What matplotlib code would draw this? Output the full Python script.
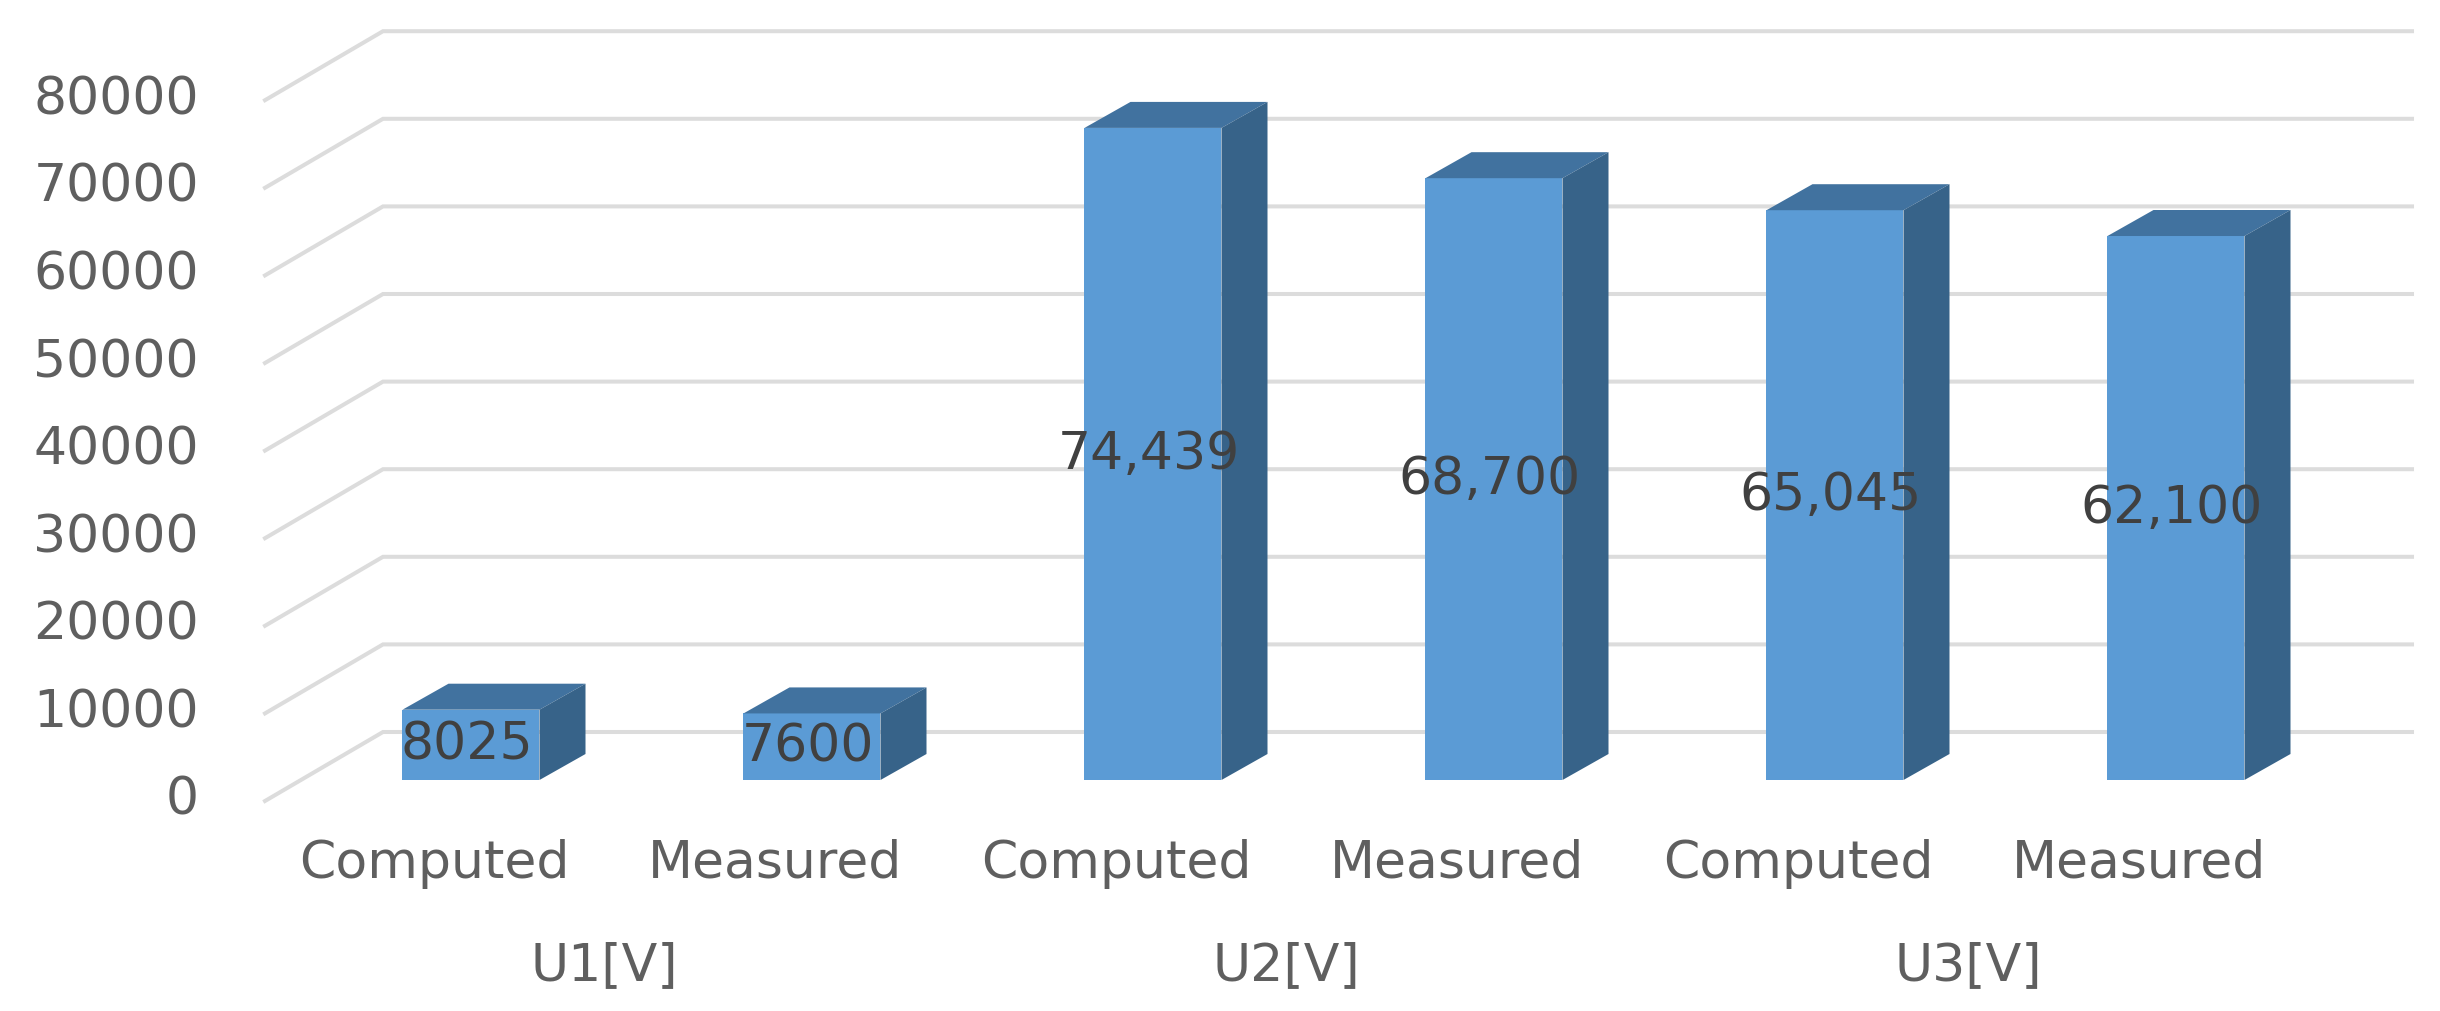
import numpy as np
import matplotlib.pyplot as plt

categories = ['Computed', 'Measured', 'Computed', 'Measured', 'Computed', 'Measured']
groups = ['U1[V]', 'U2[V]', 'U3[V]']
values = [8025, 7600, 74439, 68700, 65045, 62100]
value_labels = ['8025', '7600', '74,439', '68,700', '65,045', '62,100']
y_ticks = [0, 10000, 20000, 30000, 40000, 50000, 60000, 70000, 80000]

# pixel layout of the fake 3D projection
W, H = 2440, 1012
X0 = 471.0       # centre of first bar
STEP = 341.0     # bar spacing
Y0 = 781.0       # bar base
PX_PER_UNIT = 0.00876
BAR_W = 137.0 / STEP
DEPTH_X = 46.0 / STEP
DEPTH_Y = 26.0 / PX_PER_UNIT

FLOOR_FRONT_X = (265.0 - X0) / STEP
FLOOR_FRONT_Y = (Y0 - 802.0) / PX_PER_UNIT
WALL_X = (383.0 - X0) / STEP
WALL_Y = (Y0 - 733.0) / PX_PER_UNIT
WALL_END_X = (2412.0 - X0) / STEP

fig = plt.figure(figsize=(W / 100, H / 100), dpi=100)
ax = fig.add_axes([0, 0, 1, 1])
ax.set_xlim(-X0 / STEP, (W - X0) / STEP)
ax.set_ylim((Y0 - H) / PX_PER_UNIT, Y0 / PX_PER_UNIT)
ax.axis('off')

text_col = '#5f5f5f'
grid_col = '#dcdcdc'
font_size = 37.5

# gridlines: diagonal on the side wall, then along the back wall
for t in y_ticks:
    ax.plot([FLOOR_FRONT_X, WALL_X, WALL_END_X],
            [t + FLOOR_FRONT_Y, t + WALL_Y, t + WALL_Y],
            color=grid_col, lw=2.9, solid_joinstyle='miter', zorder=1)
    ax.text(FLOOR_FRONT_X - 66.0 / STEP, t + FLOOR_FRONT_Y + 1.0 / PX_PER_UNIT, str(t),
            ha='right', va='center', fontsize=font_size, color=text_col)

x_pos = np.arange(len(values))
for x, v, lab in zip(x_pos, values, value_labels):
    l, r = x - BAR_W / 2, x + BAR_W / 2
    ax.fill([l, r, r, l], [0, 0, v, v], color='#5b9bd5', lw=0, zorder=3)
    ax.fill([l, r, r + DEPTH_X, l + DEPTH_X], [v, v, v + DEPTH_Y, v + DEPTH_Y],
            color='#41729f', lw=0, zorder=3)
    ax.fill([r, r + DEPTH_X, r + DEPTH_X, r], [0, DEPTH_Y, v + DEPTH_Y, v],
            color='#376389', lw=0, zorder=3)
    ax.text(x - 4.0 / STEP, v / 2, lab, ha='center', va='center',
            fontsize=font_size, color='#404040', zorder=4)

# category labels sit a bit left of the bars
for x, c in zip(x_pos, categories):
    ax.text(x - 37.0 / STEP, (Y0 - 864.0) / PX_PER_UNIT, c, ha='center', va='center',
            fontsize=font_size, color=text_col)

for i, g in enumerate(groups):
    ax.text(2 * i + 0.5 - 37.0 / STEP, (Y0 - 966.0) / PX_PER_UNIT, g, ha='center', va='center',
            fontsize=font_size, color=text_col)

plt.savefig('out.png', dpi=100)
